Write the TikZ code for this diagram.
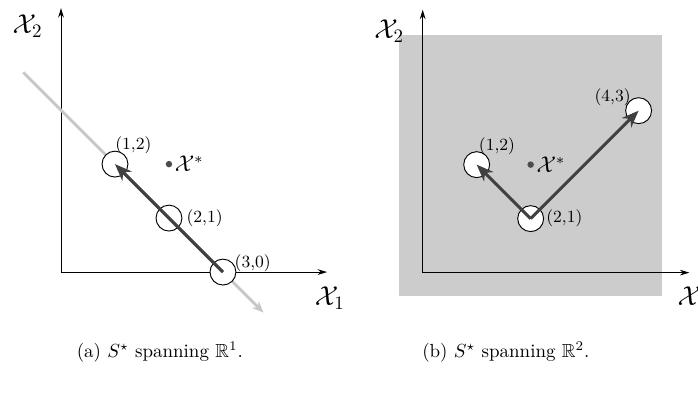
\documentclass[tikz,border=0pt]{standalone}
\usepackage{amsmath,amssymb}
\usepackage{xcolor}
\usepackage{tikz}
\usetikzlibrary{positioning, arrows.meta}

\tikzset{
  sample/.style={circle, draw, fill=white, minimum size=0.48cm, inner sep=0pt, line width=0.5pt},
  vec/.style={line width=1.6pt, draw=black!75, -{Stealth[length=9pt,width=7pt]}},
  axis/.style={line width=0.5pt, -{Stealth[length=5pt,width=3pt]}},
  coordlbl/.style={font=\small, inner sep=1pt},
  optdot/.style={circle, fill=black!70, minimum size=0.12cm, inner sep=0pt},
}

\begin{document}
\begin{tikzpicture}[x=1cm, y=1cm]
	\useasboundingbox (0,0) rectangle (12.93,7.35);

	% (a) left panel
	\begin{scope}[shift={(1.13,2.31)}]
		\coordinate (oa) at (0,0);
		\coordinate (ya) at (0,4.89);
		\coordinate (xa) at (4.93,0);
		\coordinate (la) at (-0.7,3.7);
		\coordinate (lb) at (3.75,-0.75);
		\draw[axis] (oa) -- (ya);
		\draw[axis] (oa) -- (xa);
		\node (xtwoa) at (-0.62,4.55) {\Large$\mathcal{X}_2$};
		\node (xonea) at (4.98,-0.48) {\Large$\mathcal{X}_1$};
		\draw[line width=1.4pt, draw=black!22, -{Stealth[length=6pt,width=5pt]}] (la) -- (lb);
		\node[sample] (a12) at (1,2) {};
		\node[sample] (a21) at (2,1) {};
		\node[sample] (a30) at (3,0) {};
		\draw[vec, {Stealth[length=9pt,width=7pt]}-] (a12.center) -- (a30.center);
		\node[optdot] (astar) at (2,2) {};
		\node[right=0pt of astar, inner sep=1pt] (astarlbl) {\large$\mathcal{X}^*$};
		\node[coordlbl, above right=-1pt and -6pt of a12] (a12lbl) {(1,2)};
		\node[coordlbl, right=1pt of a21] (a21lbl) {(2,1)};
		\node[coordlbl, above right=-6pt and 0pt of a30] (a30lbl) {(3,0)};
		\node (capa) at (1.83,-1.48) {(a) $S^\star$ spanning $\mathbb{R}^1$.};
	\end{scope}

	% (b) right panel
	\begin{scope}[shift={(7.83,2.30)}]
		\fill[black!20] (-0.44,-0.44) rectangle (4.44,4.41);
		\coordinate (ob) at (0,0);
		\coordinate (yb) at (0,4.87);
		\coordinate (xb) at (4.94,0);
		\draw[axis] (ob) -- (yb);
		\draw[axis] (ob) -- (xb);
		\node (xtwob) at (-0.62,4.48) {\Large$\mathcal{X}_2$};
		\node (xoneb) at (5.0,-0.47) {\Large$\mathcal{X}_1$};
		\node[sample] (b12) at (1,2) {};
		\node[sample] (b21) at (2,1) {};
		\node[sample] (b43) at (4,3) {};
		\draw[vec] (b21.center) -- (b12.center);
		\draw[vec] (b21.center) -- (b43.center);
		\node[optdot] (bstar) at (2,2) {};
		\node[right=0pt of bstar, inner sep=1pt] (bstarlbl) {\large$\mathcal{X}^*$};
		\node[coordlbl, above right=-1pt and -5pt of b12] (b12lbl) {(1,2)};
		\node[coordlbl, right=0pt of b21] (b21lbl) {(2,1)};
		\node[coordlbl, above left=-3.5pt and -2pt of b43] (b43lbl) {(4,3)};
		\node (capb) at (1.54,-1.47) {(b) $S^\star$ spanning $\mathbb{R}^2$.};
	\end{scope}
\end{tikzpicture}
\end{document}
